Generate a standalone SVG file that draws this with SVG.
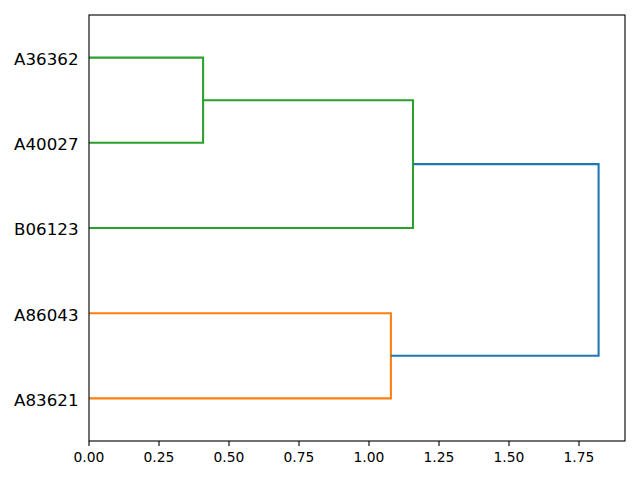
<svg xmlns="http://www.w3.org/2000/svg" width="640" height="480" viewBox="0 0 640 480">
<style>
.link{fill:none;stroke-width:2.08;stroke-linejoin:miter;stroke-linecap:butt}
.g{stroke:#2ca02c}.o{stroke:#ff7f0e}.b{stroke:#1f77b4}
.spine{fill:none;stroke:#000;stroke-width:1.11;stroke-linejoin:miter;stroke-linecap:square}
.tick{stroke:#000;stroke-width:1.11}
.xl{font-family:"DejaVu Sans",sans-serif;font-size:13.89px;text-anchor:middle;fill:#000}
.yl{font-family:"DejaVu Sans",sans-serif;font-size:16.67px;text-anchor:end;fill:#000}
</style>
<rect width="640" height="480" fill="#fff"/>
<g id="connectors">
<polyline class="link g" points="89,57.6 203.1,57.6 203.1,142.8 89,142.8"/>
<polyline class="link g" points="89,228 413,228 413,100.2 203.1,100.2"/>
<polyline class="link o" points="89,313.2 390.9,313.2 390.9,398.4 89,398.4"/>
<polyline class="link b" points="413,164.1 598.6,164.1 598.6,355.8 390.9,355.8"/>
</g>
<g id="axes">
<rect class="spine" x="89" y="15" width="536" height="426"/>
<g id="xticks">
<line class="tick" x1="89" y1="441" x2="89" y2="445.9"/>
<line class="tick" x1="159" y1="441" x2="159" y2="445.9"/>
<line class="tick" x1="229" y1="441" x2="229" y2="445.9"/>
<line class="tick" x1="299" y1="441" x2="299" y2="445.9"/>
<line class="tick" x1="369" y1="441" x2="369" y2="445.9"/>
<line class="tick" x1="439" y1="441" x2="439" y2="445.9"/>
<line class="tick" x1="509" y1="441" x2="509" y2="445.9"/>
<line class="tick" x1="579" y1="441" x2="579" y2="445.9"/>
<text class="xl" x="89" y="462">0.00</text>
<text class="xl" x="159" y="462">0.25</text>
<text class="xl" x="229" y="462">0.50</text>
<text class="xl" x="299" y="462">0.75</text>
<text class="xl" x="369" y="462">1.00</text>
<text class="xl" x="439" y="462">1.25</text>
<text class="xl" x="509" y="462">1.50</text>
<text class="xl" x="579" y="462">1.75</text>
</g>
</g>
<g id="leaf-A36362"><text class="yl" x="78.5" y="64.9">A36362</text></g>
<g id="leaf-A40027"><text class="yl" x="78.5" y="150.1">A40027</text></g>
<g id="leaf-B06123"><text class="yl" x="78.5" y="235.3">B06123</text></g>
<g id="leaf-A86043"><text class="yl" x="78.5" y="320.5">A86043</text></g>
<g id="leaf-A83621"><text class="yl" x="78.5" y="405.7">A83621</text></g>
</svg>
